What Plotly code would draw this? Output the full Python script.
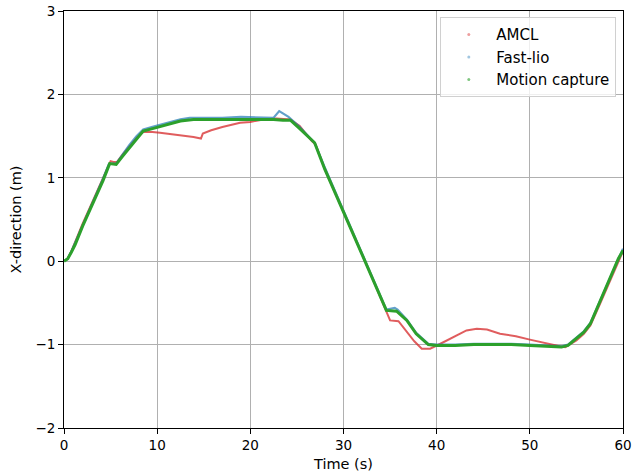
import plotly.graph_objects as go

# AMCL estimate
amcl_t = [0, 0.4, 0.8, 1.2, 2, 3, 4, 4.8, 5.0, 5.3, 5.7, 6.3, 7.1, 7.8, 8.5, 9.5, 10.3, 12, 13.9, 14.7,
          14.9, 15.8, 17, 18.9, 20, 21.4, 22.8, 24.3, 25.3, 26.6, 27, 28, 29, 30, 31, 32, 33, 34, 34.6,
          35.0, 35.9, 36.8, 37.6, 38.4, 39.3, 40.4, 41.8, 43.2, 44.3, 45.4, 46.8, 48.5, 50, 51.5, 53.2,
          53.8, 55, 55.8, 56.5, 57.5, 58.5, 59.5, 60]
amcl_x = [0, 0.03, 0.12, 0.23, 0.45, 0.7, 0.96, 1.17, 1.20, 1.19, 1.19, 1.28, 1.39, 1.48, 1.55, 1.55, 1.54,
          1.52, 1.49, 1.47, 1.53, 1.57, 1.61, 1.66, 1.67, 1.70, 1.71, 1.70, 1.62, 1.44, 1.40, 1.1, 0.85,
          0.6, 0.34, 0.08, -0.18, -0.44, -0.59, -0.71, -0.72, -0.85, -0.96, -1.05, -1.05, -0.99, -0.91,
          -0.83, -0.81, -0.82, -0.87, -0.90, -0.94, -0.98, -1.02, -1.03, -0.95, -0.87, -0.77, -0.52,
          -0.26, 0.0, 0.12]

# Fast-lio estimate
lio_t = [0, 0.4, 0.8, 1.2, 2, 3, 4, 4.8, 5.1, 5.6, 6.2, 7, 7.8, 8.5, 9.5, 10.5, 11.5, 12.5, 13.5, 15, 17,
         19, 21, 22.5, 23.1, 24.1, 25.3, 26.9, 28, 29, 30, 31, 32, 33, 34, 34.6, 35.5, 35.8, 36.8, 37.8,
         39.1, 40, 42, 44, 46, 48, 50, 52, 53.4, 54.1, 55, 55.8, 56.5, 57.5, 58.5, 59.5, 60]
lio_x = [0, 0.03, 0.12, 0.22, 0.42, 0.68, 0.94, 1.16, 1.17, 1.17, 1.27, 1.39, 1.50, 1.58, 1.61, 1.64, 1.67,
         1.70, 1.72, 1.72, 1.72, 1.73, 1.72, 1.72, 1.80, 1.73, 1.61, 1.42, 1.12, 0.86, 0.61, 0.35, 0.09,
         -0.17, -0.43, -0.58, -0.56, -0.58, -0.70, -0.86, -0.99, -1.0, -1.0, -0.99, -0.99, -0.99, -1.0,
         -1.01, -1.02, -1.0, -0.92, -0.84, -0.74, -0.48, -0.22, 0.04, 0.15]

# Motion capture ground truth
mocap_t = [0, 0.4, 0.8, 1.2, 2, 3, 4.2, 4.9, 5.6, 6.3, 7.1, 7.8, 8.5, 9.5, 10.5, 11.5, 12.5, 13.9, 15, 17,
           19, 21, 22.5, 23.5, 24.3, 25.3, 26.0, 26.9, 28, 29, 30, 31, 32, 33, 34, 34.6, 35.7, 36.8, 37.8,
           39.1, 40, 42, 44, 46, 48, 50, 52, 53.4, 54.1, 55, 55.8, 56.5, 57.5, 58.5, 59.5, 60]
mocap_x = [0, 0.03, 0.11, 0.2, 0.42, 0.67, 0.97, 1.17, 1.16, 1.26, 1.37, 1.47, 1.56, 1.59, 1.62, 1.65, 1.68,
           1.70, 1.70, 1.70, 1.70, 1.70, 1.70, 1.69, 1.69, 1.59, 1.52, 1.42, 1.1, 0.85, 0.6, 0.34, 0.08,
           -0.18, -0.44, -0.59, -0.60, -0.71, -0.87, -1.0, -1.01, -1.01, -1.0, -1.0, -1.0, -1.01, -1.02,
           -1.03, -1.01, -0.93, -0.85, -0.75, -0.49, -0.23, 0.03, 0.13]

series = [
    ('AMCL', amcl_t, amcl_x, 'rgba(214,39,40,0.75)', 2),
    ('Fast-lio', lio_t, lio_x, 'rgba(31,119,180,0.7)', 2.2),
    ('Motion capture', mocap_t, mocap_x, 'rgba(44,160,44,1)', 3),
]

fig = go.Figure()
for name, t, x, color, w in series:
    fig.add_trace(go.Scatter(x=t, y=x, mode='lines', line=dict(color=color, width=w),
                             showlegend=False, hoverinfo='skip'))
# legend entries drawn as small dots, like the scatter points
for name, t, x, color, w in series:
    fig.add_trace(go.Scatter(x=[None], y=[None], mode='markers', name=name,
                             marker=dict(color=color, size=3, opacity=0.6)))

axis = dict(showline=True, linecolor='black', linewidth=1, mirror=True,
            ticks='outside', ticklen=5, tickcolor='black',
            showgrid=True, gridcolor='#b0b0b0', gridwidth=1, zeroline=False,
            automargin=False, tickfont=dict(size=13.5, color='black'))

fig.update_layout(
    width=633, height=474,
    margin=dict(l=64, r=10, t=11, b=46),
    paper_bgcolor='white', plot_bgcolor='white',
    font=dict(family='DejaVu Sans', size=14, color='black'),
    xaxis=dict(axis, range=[0, 60], dtick=10,
               title=dict(text='Time (s)', standoff=6, font=dict(size=14.5))),
    yaxis=dict(axis, range=[-2, 3], dtick=1,
               title=dict(text='X-direction (m)', standoff=10, font=dict(size=14.5))),
    legend=dict(x=0.988, y=0.985, xanchor='right', yanchor='top', itemwidth=45,
                bordercolor='#d0d0d0', borderwidth=1, bgcolor='rgba(255,255,255,0.8)',
                font=dict(size=15)),
)

fig.write_html("out.html", config={'displayModeBar': False},
               post_script="document.body.style.margin='0';")
